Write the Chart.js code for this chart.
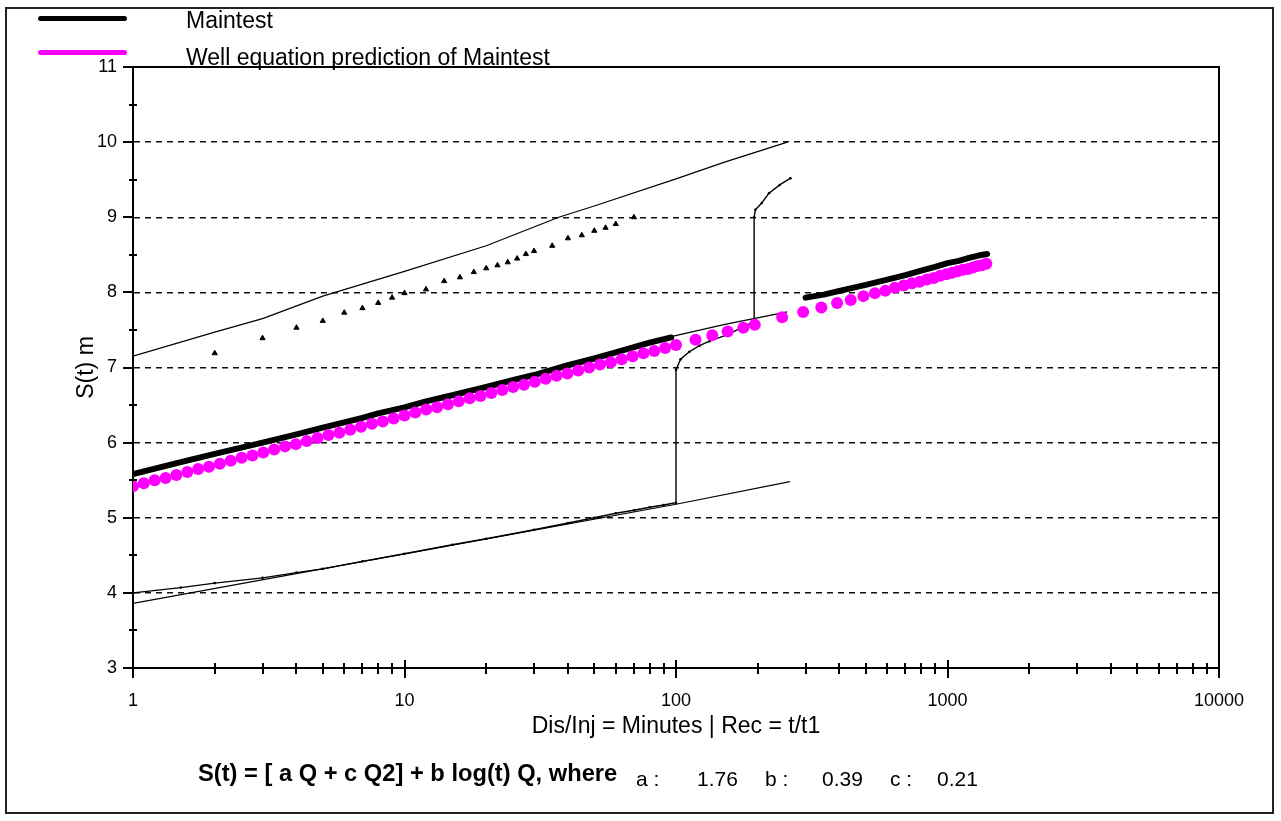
<!DOCTYPE html>
<html><head><meta charset="utf-8">
<script src="https://cdn.jsdelivr.net/npm/chart.js@4.4.1/dist/chart.umd.min.js"></script>
<style>
body{margin:0;background:#fff;font-family:"Liberation Sans",Arial,sans-serif;}
#wrap{position:relative;width:1281px;height:821px;overflow:hidden;background:#fff;}
canvas{position:absolute;left:0;top:0;}
.frame{position:absolute;left:5px;top:7px;width:1269px;height:807px;border:2px solid #222;box-sizing:border-box;pointer-events:none;}
.t{position:absolute;white-space:nowrap;line-height:1;color:#000;}
.sw{position:absolute;height:5px;border-radius:2.5px;}
</style></head>
<body><div id="wrap">
<canvas id="c" width="1281" height="821"></canvas>
<div class="frame"></div>
<div class="sw" style="left:38px;top:16px;width:89px;background:#000"></div>
<div class="t" style="left:186px;top:9px;font-size:23px">Maintest</div>
<div class="sw" style="left:38px;top:50px;width:89px;background:#ff00ff"></div>
<div class="t" style="left:186px;top:46px;font-size:23px">Well equation prediction of Maintest</div>
<div class="t" style="left:198px;top:762px;font-size:23.7px;font-weight:bold">S(t) = [ a Q + c Q2] + b log(t) Q, where</div>
<div class="t" style="left:636px;top:768px;font-size:21px">a :</div>
<div class="t" style="left:697px;top:768px;font-size:21px">1.76</div>
<div class="t" style="left:765px;top:768px;font-size:21px">b :</div>
<div class="t" style="left:822px;top:768px;font-size:21px">0.39</div>
<div class="t" style="left:890px;top:768px;font-size:21px">c :</div>
<div class="t" style="left:937px;top:768px;font-size:21px">0.21</div>
</div>
<script>
// ---- tick definitions ----
const X_TICKS = [1,2,3,4,5,6,7,8,9,10,20,30,40,50,60,70,80,90,100,200,300,400,500,600,700,800,900,1000,2000,3000,4000,5000,6000,7000,8000,9000,10000];
const X_LABEL_VALUES = [1,10,100,1000,10000];
const X_LABELS = ['1','10','100','1000','10000'];
const Y_TICKS = [3,3.5,4,4.5,5,5.5,6,6.5,7,7.5,8,8.5,9,9.5,10,10.5,11];

// ---- Maintest (measured) ----
const mainT1 = [1,1.5,2,3,4,5,6,7,8,10,12,15,20,25,30,40,50,60,70,80,96];
const mainV1 = [5.58,5.74,5.85,6.00,6.11,6.20,6.27,6.33,6.39,6.47,6.55,6.63,6.74,6.83,6.90,7.03,7.12,7.20,7.27,7.33,7.40];
const mainT2 = [300,350,400,500,600,700,800,900,1000,1100,1200,1300,1400];
const mainV2 = [7.93,7.97,8.02,8.10,8.17,8.23,8.29,8.34,8.39,8.42,8.46,8.49,8.51];

// ---- Well equation prediction ----
const predT = [1,1.096,1.202,1.318,1.445,1.585,1.738,1.905,2.089,2.291,2.512,2.754,3.020,3.311,3.631,3.981,4.365,4.786,5.248,5.754,6.310,6.918,7.586,8.318,9.120,
  10,10.96,12.02,13.18,14.45,15.85,17.38,19.05,20.89,22.91,25.12,27.54,30.20,33.11,36.31,39.81,43.65,47.86,52.48,57.54,63.10,69.18,75.86,83.18,91.20,
  100,118,136,155,177,195,246,294,343,392,440,490,540,590,640,690,740,790,840,890,940,990,1040,1090,1140,1190,1240,1290,1340,1390];
const predV = [5.42,5.46,5.50,5.53,5.57,5.61,5.65,5.68,5.72,5.76,5.80,5.83,5.87,5.91,5.95,5.98,6.02,6.06,6.10,6.13,6.17,6.21,6.25,6.28,6.32,
  6.36,6.40,6.44,6.47,6.51,6.55,6.59,6.62,6.66,6.70,6.74,6.77,6.81,6.85,6.89,6.92,6.96,7.00,7.04,7.07,7.11,7.15,7.19,7.22,7.26,
  7.30,7.37,7.43,7.48,7.53,7.57,7.67,7.74,7.80,7.86,7.90,7.95,7.99,8.02,8.06,8.09,8.12,8.14,8.17,8.19,8.22,8.24,8.26,8.28,8.30,8.31,8.33,8.35,8.36,8.38];

// ---- step lines / step data ----
const upT = [1,2,3,5,10,20,37,50,100,150,257];
const upV = [7.15,7.47,7.65,7.95,8.28,8.62,9.00,9.15,9.51,9.73,10.00];
const triT = [2,3,4,5,6,7,8,9,10,12,14,16,18,20,22,24,26,28,30,35,40,45,50,55,60,70];
const triV = [7.19,7.39,7.53,7.62,7.73,7.79,7.86,7.93,7.99,8.04,8.15,8.20,8.27,8.32,8.36,8.40,8.45,8.51,8.55,8.62,8.72,8.76,8.82,8.86,8.91,9.00];
const lowT = [1,10,100,263];
const lowV = [3.86,4.52,5.18,5.48];
const midT = [96,150,257];
const midV = [7.41,7.57,7.74];
const stepT = [1,1.5,2,3,4,5,7,10,15,20,30,40,50,60,70,80,90,100,100,104,112,122,133,153,175,194,194,196,207,220,241,264];
const stepV = [4.00,4.07,4.13,4.20,4.27,4.32,4.42,4.52,4.64,4.72,4.84,4.93,5.00,5.06,5.10,5.14,5.17,5.20,6.97,7.11,7.21,7.29,7.35,7.43,7.53,7.61,9.00,9.10,9.19,9.32,9.43,9.52];

const pts = (T,V) => T.map((t,i)=>({x:t,y:V[i]}));
const mainData = pts(mainT1,mainV1).concat([{x:200,y:null}], pts(mainT2,mainV2));

Chart.defaults.font.family = '"Liberation Sans", Arial, sans-serif';
Chart.defaults.color = '#000';

const crossTicks = {
  id:'crossTicks',
  afterDraw(chart){
    const ctx = chart.ctx, xs = chart.scales.x, ys = chart.scales.y;
    const yb = Math.round(chart.chartArea.bottom), xl = Math.round(chart.chartArea.left);
    ctx.save(); ctx.strokeStyle = '#000'; ctx.lineWidth = 2;
    xs.ticks.forEach(t=>{
      const px = Math.round(xs.getPixelForValue(t.value));
      const major = X_LABEL_VALUES.includes(t.value);
      ctx.beginPath(); ctx.moveTo(px, yb-(major?8:5)); ctx.lineTo(px, yb+(major?10:6)); ctx.stroke();
    });
    ys.ticks.forEach(t=>{
      const py = Math.round(ys.getPixelForValue(t.value));
      ctx.beginPath();
      if (Number.isInteger(t.value)) { ctx.moveTo(xl-10,py); ctx.lineTo(xl,py); }
      else { ctx.moveTo(xl-4,py); ctx.lineTo(xl+4,py); }
      ctx.stroke();
    });
    ctx.restore();
  }
};

new Chart(document.getElementById('c'), {
  type:'scatter',
  data:{datasets:[
    {label:'Well equation prediction of Maintest', data:pts(predT,predV), showLine:false, pointRadius:6, pointHoverRadius:6, pointBackgroundColor:'#ff00ff', pointBorderWidth:0, borderColor:'#ff00ff', order:0},
    {label:'Maintest', data:mainData, showLine:true, spanGaps:false, borderColor:'#000', borderWidth:6, borderCapStyle:'round', borderJoinStyle:'round', pointRadius:0, order:1},
    {label:'upper', data:pts(upT,upV), showLine:true, borderColor:'#000', borderWidth:1.2, pointRadius:0, order:2},
    {label:'tri', data:pts(triT,triV), showLine:false, pointStyle:'triangle', pointRadius:3, pointBackgroundColor:'#000', pointBorderColor:'#000', pointBorderWidth:1, order:2},
    {label:'lower', data:pts(lowT,lowV), showLine:true, borderColor:'#000', borderWidth:1.2, pointRadius:0, order:2},
    {label:'mid', data:pts(midT,midV), showLine:true, borderColor:'#000', borderWidth:1.2, pointRadius:0, order:2},
    {label:'step', data:pts(stepT,stepV), showLine:true, borderColor:'#000', borderWidth:1.4, pointRadius:1.3, pointBackgroundColor:'#000', pointBorderWidth:0, order:2}
  ]},
  options:{
    responsive:false, animation:false, devicePixelRatio:1,
    layout:{padding:{left:0, top:67, right:62, bottom:0}},
    plugins:{legend:{display:false}, tooltip:{enabled:false}},
    scales:{
      x:{type:'logarithmic', position:'bottom', min:1, max:10000,
        afterBuildTicks:s=>{ s.ticks = X_TICKS.map(v=>({value:v})); },
        afterFit:s=>{ s.height = 153; },
        ticks:{autoSkip:false, maxRotation:0, minRotation:0, padding:22, font:{size:18},
          callback:(v)=>{ const i = X_LABEL_VALUES.indexOf(v); return i>=0 ? X_LABELS[i] : ''; }},
        grid:{display:true, drawOnChartArea:false, drawTicks:false},
        border:{display:true, color:'#000', width:2},
        title:{display:true, text:'Dis/Inj = Minutes | Rec = t/t1', font:{size:23}, padding:{top:0,bottom:81}}
      },
      x2:{type:'linear', position:'top', min:0, max:1, display:true,
        ticks:{display:false}, grid:{display:false, drawTicks:false},
        border:{display:true, color:'#000', width:2},
        afterFit:s=>{ s.height = 0; }
      },
      y:{type:'linear', position:'left', min:3, max:11,
        afterBuildTicks:s=>{ s.ticks = Y_TICKS.map(v=>({value:v})); },
        afterFit:s=>{ s.width = 133; },
        ticks:{autoSkip:false, padding:16, font:{size:18},
          callback:(v)=> Number.isInteger(v) ? String(v) : ''},
        grid:{drawTicks:false, lineWidth:1.5,
          color:(c)=> (c.tick && Number.isInteger(c.tick.value) && c.tick.value>3 && c.tick.value<11) ? '#111' : 'rgba(0,0,0,0)'},
        border:{display:true, color:'#000', width:2, dash:[6,5]},
        title:{display:true, text:'S(t) m', font:{size:23}, padding:{top:73,bottom:0}}
      },
      y2:{type:'linear', position:'right', min:3, max:11, display:true,
        ticks:{display:false}, grid:{display:false, drawTicks:false},
        border:{display:true, color:'#000', width:2},
        afterFit:s=>{ s.width = 0; }
      }
    }
  },
  plugins:[crossTicks]
});
</script>
</body></html>
